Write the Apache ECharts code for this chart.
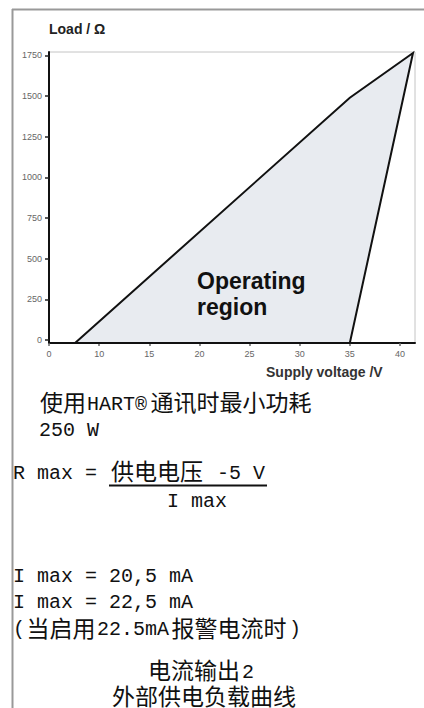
<!DOCTYPE html>
<html><head><meta charset="utf-8">
<script src="https://cdn.jsdelivr.net/npm/echarts@6/dist/echarts.min.js"></script>
<style>html,body{margin:0;padding:0;background:#fff}#c{width:424px;height:708px}</style>
</head><body><div id="c"></div>
<script>
// ---- data ----
const xTickValues = [5, 10, 15, 20, 25, 30, 35, 40];
const xTickLabels = ['0', '10', '15', '20', '25', '30', '35', '40'];
const yTickValues = [0, 250, 500, 750, 1000, 1250, 1500, 1750];
const regionVolts = [7.6, 35, 41.3, 35];
const regionOhms = [-18, 1490, 1765, -18];
const xMin = 5, xMax = 41.5, yMin = -18, yMax = 1771;

const yAxisTitle = 'Load / Ω';
const xAxisTitle = 'Supply voltage /V';
const regionTitle = ['Operating', 'region'];
const noteLines = [
  '使用HART®通讯时最小功耗',
  '250 W',
  'R max = 供电电压 -5 V',
  'I max',
  'I max = 20,5 mA',
  'I max = 22,5 mA',
  '(当启用22.5mA报警电流时)',
  '电流输出2',
  '外部供电负载曲线'
];

// ---- layout ----
const noteLayout = [
  [39, 402.5], [39, 429], [13, 471.5], [167, 500],
  [13, 575], [13, 601], [13, 628], [146, 670.5], [108, 696.5]
];
const CJK_PITCH = 24, CJK_SIZE = 23, LAT_PITCH = 12, LAT_SIZE = 20;
const CJK_DY = -1.5, LAT_DY = 1.5;
const cjkRe = /[\u3000-\u9fff\uff00-\uffef]/;

const graphics = [
  { type: 'line', shape: { x1: 12, y1: 9.5, x2: 424, y2: 9.5 }, style: { stroke: '#999', lineWidth: 2 } },
  { type: 'line', shape: { x1: 12.5, y1: 9, x2: 12.5, y2: 708 }, style: { stroke: '#999', lineWidth: 2 } },
  { type: 'text', x: 49, y: 29, style: { text: yAxisTitle, fontFamily: 'Liberation Sans', fontWeight: 'bold', fontSize: 14, fill: '#222', verticalAlign: 'middle', align: 'left' } },
  { type: 'text', x: 266, y: 371.5, style: { text: xAxisTitle, fontFamily: 'Liberation Sans', fontWeight: 'bold', fontSize: 14, fill: '#333', verticalAlign: 'middle', align: 'left' } },
  { type: 'text', x: 197, y: 281, z: 10, style: { text: regionTitle[0], fontFamily: 'Liberation Sans', fontWeight: 'bold', fontSize: 23, fill: '#111', verticalAlign: 'middle', align: 'left' } },
  { type: 'text', x: 197, y: 307, z: 10, style: { text: regionTitle[1], fontFamily: 'Liberation Sans', fontWeight: 'bold', fontSize: 23, fill: '#111', verticalAlign: 'middle', align: 'left' } },
  { type: 'line', shape: { x1: 109, y1: 485.5, x2: 267, y2: 485.5 }, style: { stroke: '#111', lineWidth: 2 } }
];

noteLines.forEach(function (t, i) {
  const runs = t.match(/[\u3000-\u9fff\uff00-\uffef]+|[^\u3000-\u9fff\uff00-\uffef]+/g) || [];
  let cx = noteLayout[i][0];
  const cy = noteLayout[i][1];
  runs.forEach(function (run) {
    const n = Array.from(run).length;
    if (cjkRe.test(run)) {
      const span = n * CJK_PITCH;
      graphics.push({ type: 'text', x: cx + span / 2, y: cy + CJK_DY,
        style: { text: run, fontFamily: 'Noto Sans CJK SC', fontSize: CJK_SIZE, fill: '#111', align: 'center', verticalAlign: 'middle' } });
      cx += span;
    } else {
      graphics.push({ type: 'text', x: cx, y: cy + LAT_DY,
        style: { text: run, fontFamily: 'Liberation Mono', fontSize: LAT_SIZE, fill: '#111', align: 'left', verticalAlign: 'middle' } });
      cx += n * LAT_PITCH;
    }
  });
});

const chart = echarts.init(document.getElementById('c'), null, { renderer: 'svg' });
chart.setOption({
  animation: false,
  backgroundColor: '#fff',
  grid: { left: 49, right: 9, top: 52, bottom: 365, show: true, borderColor: '#c4c4c4', borderWidth: 1, backgroundColor: 'transparent' },
  xAxis: {
    type: 'value', min: xMin, max: xMax,
    axisLine: { show: true, onZero: false, lineStyle: { color: '#111', width: 2 } },
    axisTick: { show: true, customValues: xTickValues, length: 3, lineStyle: { color: '#666', width: 1.5 } },
    axisLabel: {
      customValues: xTickValues, fontSize: 9, color: '#666', margin: 6, fontFamily: 'Liberation Sans',
      formatter: function (v) { const k = xTickValues.indexOf(v); return k >= 0 ? xTickLabels[k] : ''; }
    },
    splitLine: { show: false }
  },
  yAxis: {
    type: 'value', min: yMin, max: yMax,
    axisLine: { show: true, onZero: false, lineStyle: { color: '#111', width: 2 } },
    axisTick: { show: true, customValues: yTickValues, length: 4, lineStyle: { color: '#222', width: 1.5 } },
    axisLabel: { customValues: yTickValues, fontSize: 9, color: '#666', margin: 7, fontFamily: 'Liberation Sans',
      formatter: function (v) { return String(v); } },
    splitLine: { show: false }
  },
  series: [{
    type: 'custom',
    clip: false,
    data: [0],
    renderItem: function (params, api) {
      const pts = regionVolts.map(function (v, i) { return api.coord([v, regionOhms[i]]); });
      return {
        type: 'polygon',
        shape: { points: pts },
        style: { fill: '#e8ebf0', stroke: '#111', lineWidth: 2, lineJoin: 'miter' }
      };
    }
  }],
  graphic: graphics
});
</script>
</body></html>
